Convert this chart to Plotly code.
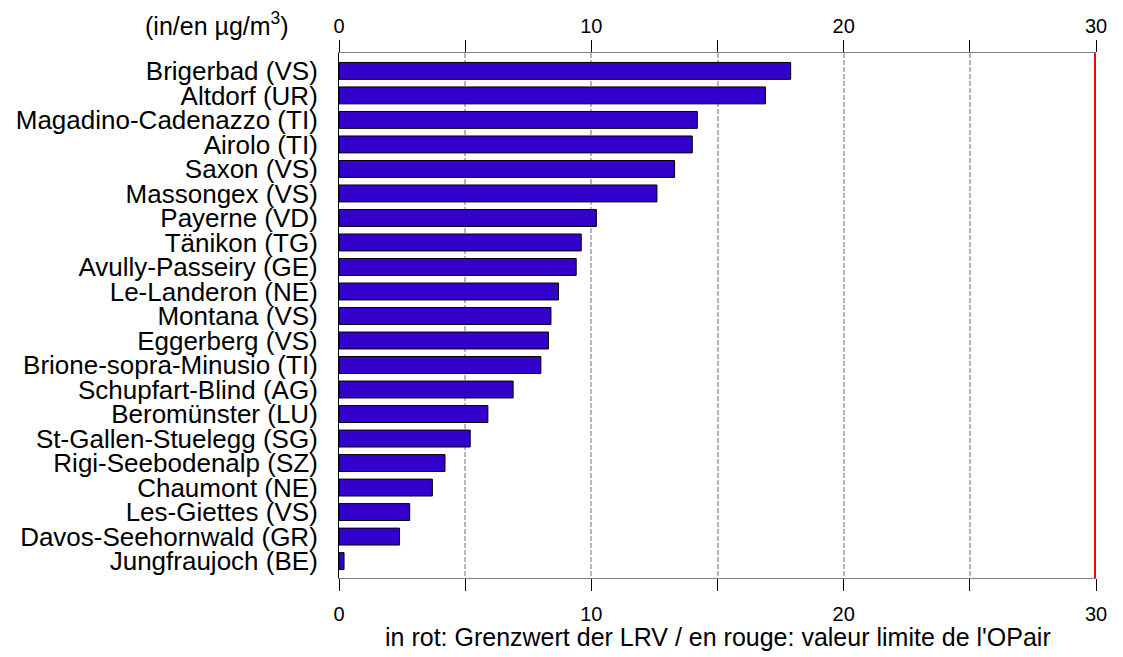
import plotly.graph_objects as go

stations = ["Brigerbad (VS)", "Altdorf (UR)", "Magadino-Cadenazzo (TI)", "Airolo (TI)", "Saxon (VS)",
            "Massongex (VS)", "Payerne (VD)", "Tänikon (TG)", "Avully-Passeiry (GE)", "Le-Landeron (NE)",
            "Montana (VS)", "Eggerberg (VS)", "Brione-sopra-Minusio (TI)", "Schupfart-Blind (AG)",
            "Beromünster (LU)", "St-Gallen-Stuelegg (SG)", "Rigi-Seebodenalp (SZ)", "Chaumont (NE)",
            "Les-Giettes (VS)", "Davos-Seehornwald (GR)", "Jungfraujoch (BE)"]
values = [17.9, 16.9, 14.2, 14.0, 13.3, 12.6, 10.2, 9.6, 9.4, 8.7, 8.4, 8.3, 8.0, 6.9, 5.9, 5.2, 4.2,
          3.7, 2.8, 2.4, 0.2]
limit_value = 30
tick_vals = [0, 5, 10, 15, 20, 25, 30]
tick_text = ["0", "", "10", "", "20", "", "30"]

FONT = "Liberation Sans, Arial, sans-serif"

# page offset (body margin) of 8px
OFF = 8
W, H = 1123 - 2 * OFF, 657 - OFF
ML, MT = 339 - OFF, 53 - OFF
MR = W - (1096 - OFF)
MB = H - (578 - OFF)
pw = W - ML - MR
ph = H - MT - MB


def px2paper(px, py):
    return (px - OFF - ML) / pw, 1 - (py - OFF - MT) / ph


fig = go.Figure()
fig.add_trace(go.Bar(
    x=values, y=stations, orientation="h", width=0.69,
    marker=dict(color="#3300CC", line=dict(color="black", width=1)),
    showlegend=False, hoverinfo="x+y",
))
fig.add_trace(go.Scatter(x=[0, 30], y=[stations[0], stations[0]], xaxis="x2", mode="markers",
                         marker=dict(opacity=0), showlegend=False, hoverinfo="skip"))

fig.add_shape(type="line", xref="x", yref="paper", x0=limit_value, x1=limit_value, y0=0, y1=1,
              line=dict(color="#FF0000", width=4), layer="above")

axis_common = dict(
    range=[0, 30], tickmode="array", tickvals=tick_vals, ticktext=tick_text, ticks="outside",
    ticklen=12, tickcolor="black", tickwidth=1, showline=True, linecolor="#808080", linewidth=1,
    tickfont=dict(family=FONT, size=20, color="black"), zeroline=False, automargin=False,
)
a0x, a0y = px2paper(217, 24)
a1x, a1y = px2paper(718, 637)
fig.update_layout(
    width=W, height=H, autosize=False,
    margin=dict(l=ML, r=MR, t=MT, b=MB, pad=0),
    paper_bgcolor="white", plot_bgcolor="white",
    xaxis=dict(**axis_common, showgrid=True, gridcolor="#B8B8B8", griddash="5px,2px", gridwidth=2,
               side="bottom", ticklabelstandoff=6),
    xaxis2=dict(**axis_common, overlaying="x", side="top", showgrid=False, matches="x",
                ticklabelstandoff=-1),
    yaxis=dict(categoryorder="array", categoryarray=stations, range=[20.69, -0.73],
               tickmode="array", tickvals=stations, ticktext=stations, automargin=False,
               showline=True, linecolor="black", linewidth=1, ticks="", showgrid=False,
               tickfont=dict(family=FONT, size=26, color="black"), ticklabelstandoff=15),
    annotations=[
        dict(text="(in/en µg/m<sup>3</sup>)", x=a0x, y=a0y, xref="paper", yref="paper",
             xanchor="center", yanchor="middle",
             showarrow=False, font=dict(family=FONT, size=25, color="black")),
        dict(text="in rot: Grenzwert der LRV / en rouge: valeur limite de l'OPair",
             x=a1x, y=a1y, xref="paper", yref="paper", xanchor="center", yanchor="middle",
             showarrow=False, font=dict(family=FONT, size=25, color="black")),
    ],
)

fig.write_html("out.html")
